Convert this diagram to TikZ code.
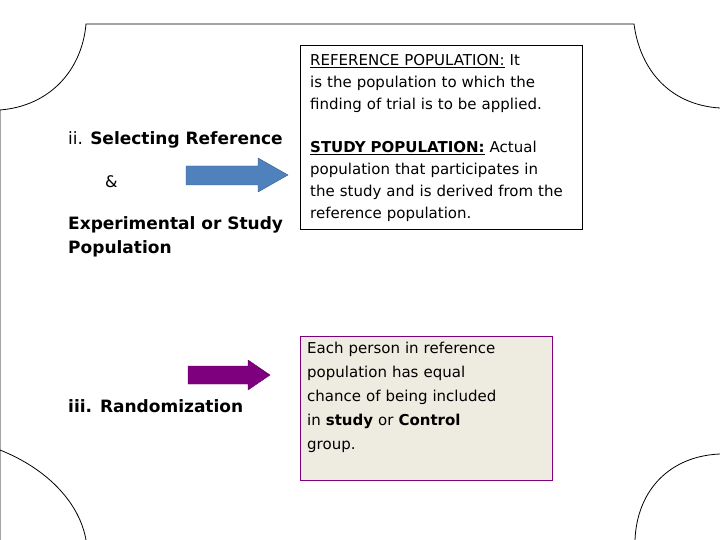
\documentclass[tikz,border=0pt]{standalone}
\usepackage{fontspec}
\setmainfont{DejaVu Sans}
\definecolor{blu}{HTML}{4F81BD}
\definecolor{pur}{HTML}{7F007F}
\definecolor{beige}{HTML}{EEEBE0}
\newcommand{\jline}[1]{\makebox[232pt][s]{#1}}
\begin{document}
\begin{tikzpicture}[x=1pt,y=-1pt,
  txt/.style={align=left,anchor=north west,inner sep=0pt},
  lft/.style={txt,font=\fontsize{17}{24}\selectfont\bfseries}]
\useasboundingbox (0,0) rectangle (720,540);
\draw[thick] (0,540) -- (0,450) .. controls (50,470) and (80,505) .. (86,540);
\draw[thick] (0,450) -- (0,110) .. controls (50,106) and (82,70) .. (86,24) -- (634,24)
  .. controls (640,70) and (670,105) .. (720,108);
\draw[thick] (720,454) .. controls (670,456) and (637,490) .. (635,540);
\node[lft] (l1) at (68,131) {\mdseries ii. \bfseries Selecting Reference};
\node[txt,font=\fontsize{16}{24}\selectfont] (l2) at (105,175) {\&};
\node[lft] (l3) at (68,216) {Experimental or Study\\Population};
\node[lft] (l4) at (68,399) {iii. Randomization};
\node[draw=black,fill=white,thick,minimum width=282,minimum height=184,anchor=north west,inner sep=0pt] (b1) at (300,45) {};
\node[txt,font=\fontsize{15}{22}\selectfont,text width=275] (t1) at (310,54) {\underline{REFERENCE POPULATION:} It\\is the population to which the\\finding of trial is to be applied.};
\node[txt,font=\fontsize{15}{22}\selectfont,text width=275] (t2) at (310,141) {\textbf{\underline{STUDY POPULATION:}} Actual\\population that participates in\\the study and is derived from the\\reference population.};
\node[draw=pur,fill=beige,minimum width=252,minimum height=144,anchor=north west,inner sep=0pt] (b2) at (300,336) {};
\node[txt,font=\fontsize{15}{24}\selectfont,text width=232] (t3) at (307,342) {\jline{Each person in reference}\\\jline{population has equal}\\\jline{chance of being included}\\\jline{in \textbf{study} or \textbf{Control}}\\group.};
\draw[draw=blu!70!black,fill=blu] (186,166) -- (258,166) -- (258,158) -- (288,175) -- (258,192) -- (258,185) -- (186,185) -- cycle;
\draw[draw=pur!70!black,fill=pur] (188,366) -- (248,366) -- (248,360) -- (270,375) -- (248,390) -- (248,384) -- (188,384) -- cycle;
\end{tikzpicture}
\end{document}
